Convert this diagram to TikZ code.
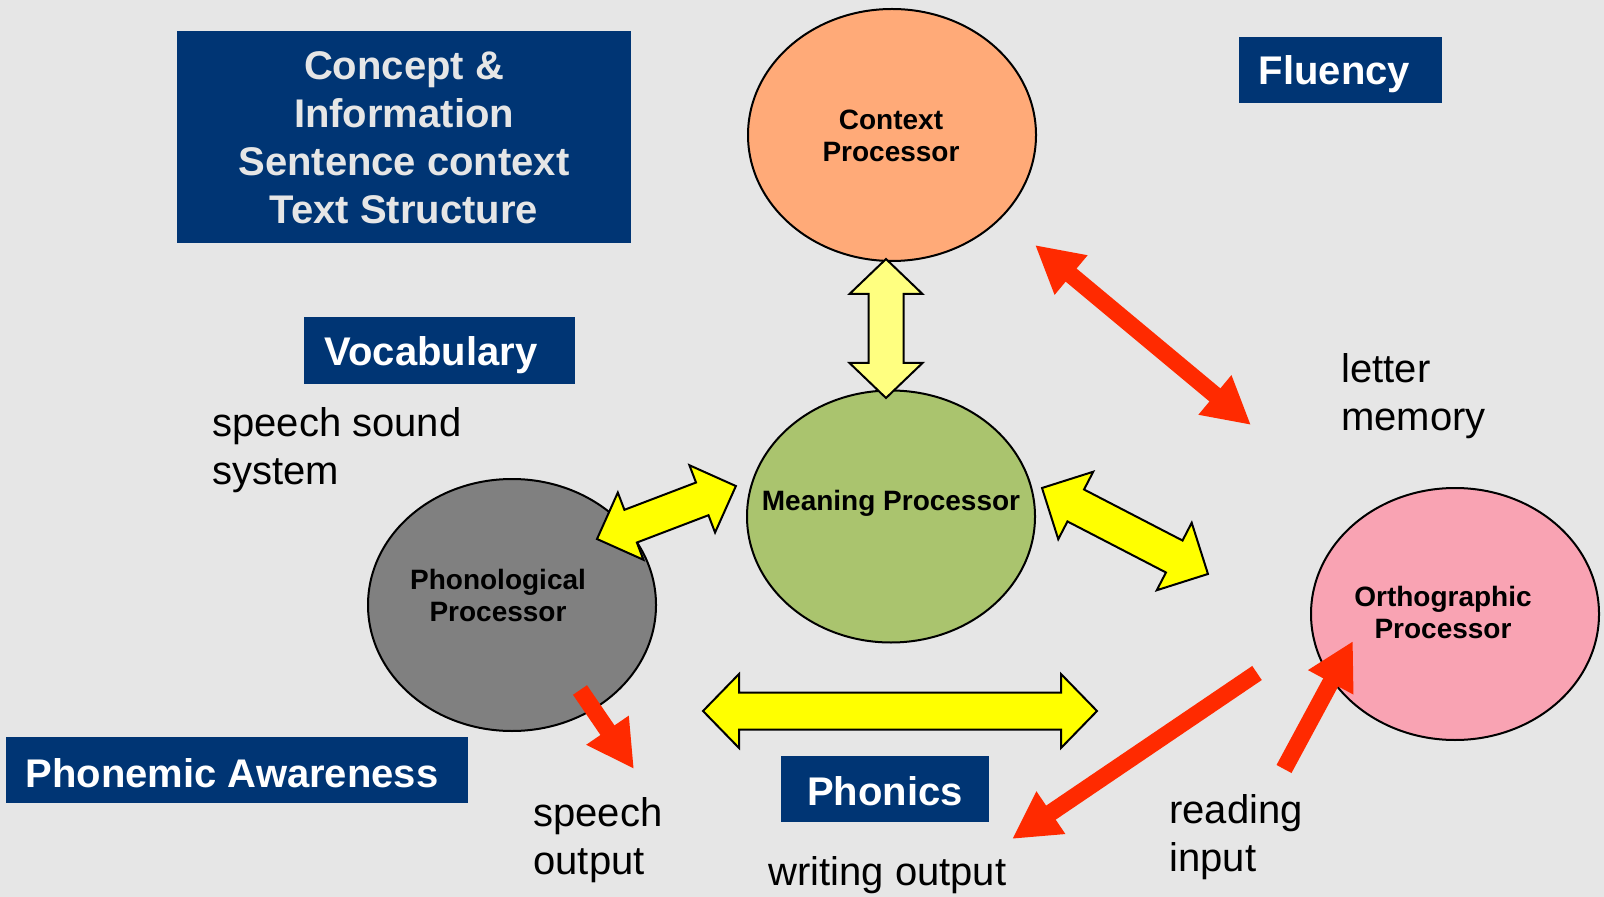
\documentclass[tikz,border=0pt]{standalone}
\usepackage{fontspec}
\setmainfont{Liberation Sans}
\usetikzlibrary{shapes.geometric,arrows.meta,calc}
\definecolor{bgc}{HTML}{E6E6E6}
\definecolor{navy}{HTML}{003574}
\definecolor{ctxc}{HTML}{FFAA78}
\definecolor{meanc}{HTML}{AAC46E}
\definecolor{phonc}{HTML}{808080}
\definecolor{orthc}{HTML}{F9A3B3}
\definecolor{redc}{HTML}{FF2A00}
\definecolor{yel}{HTML}{FFFF00}
\definecolor{paleyel}{HTML}{FFFF80}
% #1 start, #2 end, #3 shaft half width, #4 head half width, #5 head length, #6 style
\newcommand\blockarrow[6]{%
  \draw[#6] let \p1=(#1), \p2=(#2),
    \n1={atan2(\y2-\y1,\x2-\x1)}, \n2={veclen(\x2-\x1,\y2-\y1)} in
    [shift={(\p1)}, rotate=\n1]
    (0pt,0pt) -- (#5,#4) -- (#5,#3) -- ({\n2*1pt-#5},#3) -- ({\n2*1pt-#5},#4)
    -- ({\n2*1pt},0pt) -- ({\n2*1pt-#5},-#4) -- ({\n2*1pt-#5},-#3) -- (#5,-#3) -- (#5,-#4) -- cycle;}
% lower text by #1 without changing its reported size
\newcommand\lowered[2]{\raisebox{-#1}[\height][\depth]{#2}}
\begin{document}
\begin{tikzpicture}[x=0.5pt,y=-0.5pt,
  box/.style={fill=navy, inner sep=0pt, text=white, align=center,
    font=\bfseries\fontsize{20}{24}\selectfont},
  proc/.style={ellipse, draw=black, line width=1pt, minimum width=144pt,
    minimum height=126pt, inner sep=0pt},
  plab/.style={font=\bfseries\fontsize{14}{16}\selectfont, align=center, inner sep=0pt},
  note/.style={font=\fontsize{20}{24}\selectfont, align=left, anchor=west, inner sep=0pt},
  redarrow/.style={draw=redc, line width=8.5pt, -{Triangle[length=23.5pt,width=24pt]}},
  reddbl/.style={draw=redc, line width=8.5pt,
    {Triangle[length=23.5pt,width=24pt]}-{Triangle[length=23.5pt,width=24pt]}},
  blk/.style={draw=black, line width=1pt, line join=miter}]
\fill[bgc] (0,0) rectangle (1604,897);
\useasboundingbox (0,0) rectangle (1604,897);

% boxes
\node[box, text=bgc, minimum width=227pt, minimum height=106pt] (concept) at (404,137.5)
  {Concept \&\\Information\\Sentence context\\Text Structure};
\node[box, minimum width=101.5pt, minimum height=33pt] (fluency) at (1340.5,70)
  {\lowered{2pt}{Fluency\kern6pt}};
\node[box, minimum width=135.5pt, minimum height=33.5pt] (vocab) at (439.5,350.5)
  {\lowered{2.5pt}{Vocabulary\kern8.5pt}};
\node[box, minimum width=231pt, minimum height=33pt] (phonemic) at (237,770)
  {\lowered{1.5pt}{Phonemic Awareness\kern5pt}};
\node[box, minimum width=104pt, minimum height=33pt] (phonics) at (885,789)
  {\lowered{1pt}{Phonics}};

% processors
\node[proc, fill=ctxc] (ctx) at (892,135) {};
\node[proc, fill=meanc] (mean) at (891,516.5) {};
\node[proc, fill=phonc] (phon) at (512,605) {};
\node[proc, fill=orthc] (orth) at (1455,614) {};

% arrow end points
\coordinate (ya1) at (597,539);  \coordinate (ya2) at (736,486);
\coordinate (yb1) at (1042,488); \coordinate (yb2) at (1208,574);
\coordinate (yc1) at (886,259);  \coordinate (yc2) at (886,398);
\coordinate (yd1) at (703,711);  \coordinate (yd2) at (1097,711);
\coordinate (ra1) at (1035,245); \coordinate (ra2) at (1251,425);
\coordinate (rb1) at (580,690);  \coordinate (rb2) at (634,769);
\coordinate (rc1) at (1257,673); \coordinate (rc2) at (1012,839);
\coordinate (rd1) at (1284,769); \coordinate (rd2) at (1353,641);

% yellow block arrows
\blockarrow{ya1}{ya2}{8.75pt}{18pt}{18pt}{blk, fill=yel}
\blockarrow{yb1}{yb2}{9pt}{19pt}{19pt}{blk, fill=yel}
\blockarrow{yc1}{yc2}{8.75pt}{18.25pt}{17.5pt}{blk, fill=paleyel}
\blockarrow{yd1}{yd2}{9.25pt}{18.5pt}{18pt}{blk, fill=yel}

% red arrows
\draw[reddbl] (ra1) -- (ra2);
\draw[redarrow] (rb1) -- (rb2);
\draw[redarrow] (rc1) -- (rc2);
\draw[redarrow] (rd1) -- (rd2);

% processor labels
\node[plab] (ctxT) at (891,135.5) {Context\\Processor};
\node[plab] (meanT) at (891,503) {Meaning Processor};
\node[plab] (phonT) at (498,595) {Phonological\\Processor};
\node[plab] (orthT) at (1443,612) {Orthographic\\Processor};

% notes
\node[note] (letter) at (1341,396) {letter\\memory};
\node[note] (sound) at (212,450) {speech sound\\system};
\node[note] (speechout) at (533,840) {speech\\output};
\node[note] (writeout) at (768,875) {writing output};
\node[note] (readin) at (1169,837) {reading\\input};
\end{tikzpicture}
\end{document}
